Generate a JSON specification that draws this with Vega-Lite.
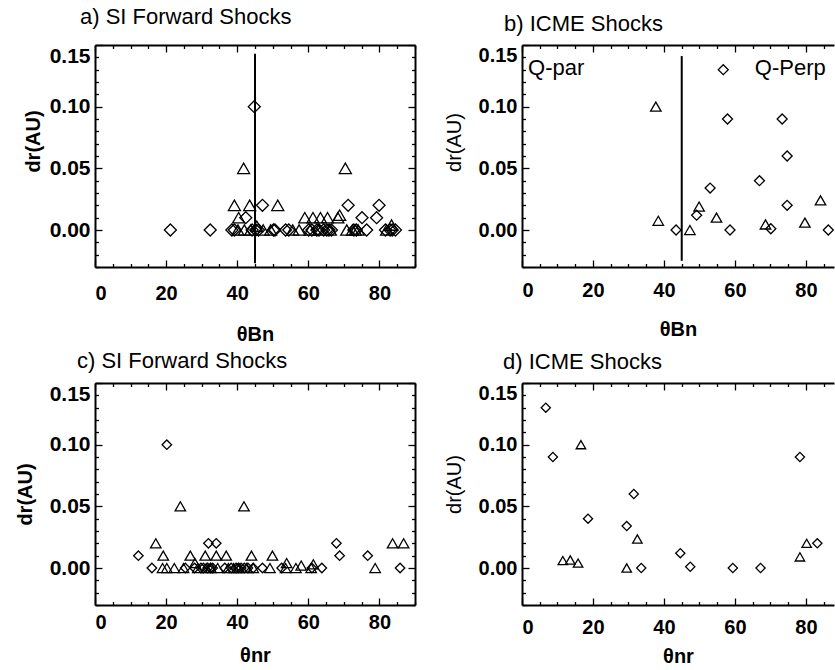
{
  "$schema": "https://vega.github.io/schema/vega-lite/v6.json",
  "padding": {"left": 15, "top": 6, "right": 0, "bottom": 0},
  "columns": 2,
  "spacing": {"column": 107, "row": 116},
  "bounds": "flush",
  "datasets": {
    "a": [
      {"theta": 21.2, "dr": 0, "kind": "diamond"},
      {"theta": 32.4, "dr": 0, "kind": "diamond"},
      {"theta": 38.5, "dr": 0, "kind": "diamond"},
      {"theta": 39.2, "dr": 0, "kind": "diamond"},
      {"theta": 42.4, "dr": 0.01, "kind": "diamond"},
      {"theta": 44.8, "dr": 0.10, "kind": "diamond"},
      {"theta": 44.2, "dr": 0, "kind": "diamond"},
      {"theta": 45.2, "dr": 0, "kind": "diamond"},
      {"theta": 46.0, "dr": 0, "kind": "diamond"},
      {"theta": 47.1, "dr": 0.02, "kind": "diamond"},
      {"theta": 50.2, "dr": 0, "kind": "diamond"},
      {"theta": 50.6, "dr": 0, "kind": "diamond"},
      {"theta": 53.6, "dr": 0, "kind": "diamond"},
      {"theta": 54.5, "dr": 0, "kind": "diamond"},
      {"theta": 60.1, "dr": 0, "kind": "diamond"},
      {"theta": 61.0, "dr": 0, "kind": "diamond"},
      {"theta": 62.4, "dr": 0, "kind": "diamond"},
      {"theta": 63.0, "dr": 0, "kind": "diamond"},
      {"theta": 64.3, "dr": 0, "kind": "diamond"},
      {"theta": 65.2, "dr": 0, "kind": "diamond"},
      {"theta": 65.8, "dr": 0, "kind": "diamond"},
      {"theta": 66.5, "dr": 0, "kind": "diamond"},
      {"theta": 71.2, "dr": 0.02, "kind": "diamond"},
      {"theta": 72.8, "dr": 0, "kind": "diamond"},
      {"theta": 73.5, "dr": 0, "kind": "diamond"},
      {"theta": 75.1, "dr": 0.01, "kind": "diamond"},
      {"theta": 76.4, "dr": 0, "kind": "diamond"},
      {"theta": 79.2, "dr": 0.01, "kind": "diamond"},
      {"theta": 79.9, "dr": 0.02, "kind": "diamond"},
      {"theta": 81.7, "dr": 0, "kind": "diamond"},
      {"theta": 83.0, "dr": 0, "kind": "diamond"},
      {"theta": 83.6, "dr": 0, "kind": "diamond"},
      {"theta": 84.5, "dr": 0, "kind": "diamond"},
      {"theta": 41.8, "dr": 0.05, "kind": "triangle"},
      {"theta": 70.4, "dr": 0.05, "kind": "triangle"},
      {"theta": 39.2, "dr": 0.02, "kind": "triangle"},
      {"theta": 43.5, "dr": 0.02, "kind": "triangle"},
      {"theta": 51.4, "dr": 0.02, "kind": "triangle"},
      {"theta": 40.4, "dr": 0.01, "kind": "triangle"},
      {"theta": 59.0, "dr": 0.01, "kind": "triangle"},
      {"theta": 61.3, "dr": 0.01, "kind": "triangle"},
      {"theta": 63.4, "dr": 0.01, "kind": "triangle"},
      {"theta": 65.4, "dr": 0.01, "kind": "triangle"},
      {"theta": 68.3, "dr": 0.01, "kind": "triangle"},
      {"theta": 68.8, "dr": 0.012, "kind": "triangle"},
      {"theta": 40.2, "dr": 0, "kind": "triangle"},
      {"theta": 42.0, "dr": 0, "kind": "triangle"},
      {"theta": 43.8, "dr": 0, "kind": "triangle"},
      {"theta": 45.5, "dr": 0.003, "kind": "triangle"},
      {"theta": 47.3, "dr": 0, "kind": "triangle"},
      {"theta": 49.4, "dr": 0, "kind": "triangle"},
      {"theta": 55.6, "dr": 0, "kind": "triangle"},
      {"theta": 57.4, "dr": 0, "kind": "triangle"},
      {"theta": 60.5, "dr": 0, "kind": "triangle"},
      {"theta": 63.0, "dr": 0, "kind": "triangle"},
      {"theta": 66.2, "dr": 0, "kind": "triangle"},
      {"theta": 70.8, "dr": 0, "kind": "triangle"},
      {"theta": 72.4, "dr": 0, "kind": "triangle"},
      {"theta": 73.2, "dr": 0, "kind": "triangle"},
      {"theta": 74.0, "dr": 0, "kind": "triangle"},
      {"theta": 82.0, "dr": 0, "kind": "triangle"},
      {"theta": 83.4, "dr": 0.004, "kind": "triangle"}
    ],
    "b": [
      {"theta": 56.7, "dr": 0.13, "kind": "diamond"},
      {"theta": 57.9, "dr": 0.09, "kind": "diamond"},
      {"theta": 73.3, "dr": 0.09, "kind": "diamond"},
      {"theta": 74.7, "dr": 0.06, "kind": "diamond"},
      {"theta": 66.9, "dr": 0.04, "kind": "diamond"},
      {"theta": 53.0, "dr": 0.034, "kind": "diamond"},
      {"theta": 49.2, "dr": 0.012, "kind": "diamond"},
      {"theta": 74.7, "dr": 0.02, "kind": "diamond"},
      {"theta": 43.4, "dr": 0, "kind": "diamond"},
      {"theta": 58.6, "dr": 0, "kind": "diamond"},
      {"theta": 70.1, "dr": 0.001, "kind": "diamond"},
      {"theta": 86.3, "dr": 0, "kind": "diamond"},
      {"theta": 37.7, "dr": 0.10, "kind": "triangle"},
      {"theta": 38.4, "dr": 0.0075, "kind": "triangle"},
      {"theta": 47.3, "dr": 0, "kind": "triangle"},
      {"theta": 49.9, "dr": 0.019, "kind": "triangle"},
      {"theta": 54.8, "dr": 0.01, "kind": "triangle"},
      {"theta": 68.6, "dr": 0.0045, "kind": "triangle"},
      {"theta": 79.7, "dr": 0.006, "kind": "triangle"},
      {"theta": 84.1, "dr": 0.024, "kind": "triangle"}
    ],
    "c": [
      {"theta": 12.2, "dr": 0.01, "kind": "diamond"},
      {"theta": 16.0, "dr": 0, "kind": "diamond"},
      {"theta": 20.2, "dr": 0.10, "kind": "diamond"},
      {"theta": 25.4, "dr": 0, "kind": "diamond"},
      {"theta": 28.0, "dr": 0, "kind": "diamond"},
      {"theta": 29.8, "dr": 0, "kind": "diamond"},
      {"theta": 30.5, "dr": 0, "kind": "diamond"},
      {"theta": 31.7, "dr": 0, "kind": "diamond"},
      {"theta": 31.9, "dr": 0.02, "kind": "diamond"},
      {"theta": 32.5, "dr": 0, "kind": "diamond"},
      {"theta": 33.1, "dr": 0, "kind": "diamond"},
      {"theta": 34.1, "dr": 0.02, "kind": "diamond"},
      {"theta": 36.5, "dr": 0, "kind": "diamond"},
      {"theta": 38.3, "dr": 0, "kind": "diamond"},
      {"theta": 39.7, "dr": 0, "kind": "diamond"},
      {"theta": 40.3, "dr": 0, "kind": "diamond"},
      {"theta": 41.1, "dr": 0, "kind": "diamond"},
      {"theta": 42.0, "dr": 0, "kind": "diamond"},
      {"theta": 43.0, "dr": 0, "kind": "diamond"},
      {"theta": 44.5, "dr": 0, "kind": "diamond"},
      {"theta": 47.1, "dr": 0, "kind": "diamond"},
      {"theta": 52.5, "dr": 0, "kind": "diamond"},
      {"theta": 61.0, "dr": 0, "kind": "diamond"},
      {"theta": 63.8, "dr": 0, "kind": "diamond"},
      {"theta": 67.9, "dr": 0.02, "kind": "diamond"},
      {"theta": 68.8, "dr": 0.01, "kind": "diamond"},
      {"theta": 76.7, "dr": 0.01, "kind": "diamond"},
      {"theta": 85.8, "dr": 0, "kind": "diamond"},
      {"theta": 24.0, "dr": 0.05, "kind": "triangle"},
      {"theta": 41.9, "dr": 0.05, "kind": "triangle"},
      {"theta": 17.1, "dr": 0.02, "kind": "triangle"},
      {"theta": 83.7, "dr": 0.02, "kind": "triangle"},
      {"theta": 86.8, "dr": 0.02, "kind": "triangle"},
      {"theta": 19.2, "dr": 0.01, "kind": "triangle"},
      {"theta": 26.8, "dr": 0.01, "kind": "triangle"},
      {"theta": 31.0, "dr": 0.01, "kind": "triangle"},
      {"theta": 34.1, "dr": 0.01, "kind": "triangle"},
      {"theta": 36.9, "dr": 0.01, "kind": "triangle"},
      {"theta": 44.0, "dr": 0.01, "kind": "triangle"},
      {"theta": 49.9, "dr": 0.01, "kind": "triangle"},
      {"theta": 28.1, "dr": 0.004, "kind": "triangle"},
      {"theta": 53.9, "dr": 0.004, "kind": "triangle"},
      {"theta": 58.0, "dr": 0.002, "kind": "triangle"},
      {"theta": 61.4, "dr": 0.003, "kind": "triangle"},
      {"theta": 19.0, "dr": 0, "kind": "triangle"},
      {"theta": 20.2, "dr": 0, "kind": "triangle"},
      {"theta": 22.3, "dr": 0, "kind": "triangle"},
      {"theta": 24.9, "dr": 0, "kind": "triangle"},
      {"theta": 28.9, "dr": 0, "kind": "triangle"},
      {"theta": 31.3, "dr": 0, "kind": "triangle"},
      {"theta": 32.6, "dr": 0, "kind": "triangle"},
      {"theta": 34.5, "dr": 0, "kind": "triangle"},
      {"theta": 37.5, "dr": 0, "kind": "triangle"},
      {"theta": 39.0, "dr": 0, "kind": "triangle"},
      {"theta": 40.5, "dr": 0, "kind": "triangle"},
      {"theta": 42.6, "dr": 0, "kind": "triangle"},
      {"theta": 44.5, "dr": 0, "kind": "triangle"},
      {"theta": 49.2, "dr": 0, "kind": "triangle"},
      {"theta": 53.6, "dr": 0, "kind": "triangle"},
      {"theta": 56.5, "dr": 0, "kind": "triangle"},
      {"theta": 60.8, "dr": 0, "kind": "triangle"},
      {"theta": 78.8, "dr": 0, "kind": "triangle"}
    ],
    "d": [
      {"theta": 6.7, "dr": 0.130, "kind": "diamond"},
      {"theta": 8.7, "dr": 0.09, "kind": "diamond"},
      {"theta": 18.6, "dr": 0.04, "kind": "diamond"},
      {"theta": 29.5, "dr": 0.034, "kind": "diamond"},
      {"theta": 31.5, "dr": 0.06, "kind": "diamond"},
      {"theta": 33.6, "dr": 0, "kind": "diamond"},
      {"theta": 44.6, "dr": 0.012, "kind": "diamond"},
      {"theta": 47.4, "dr": 0.001, "kind": "diamond"},
      {"theta": 59.4, "dr": 0, "kind": "diamond"},
      {"theta": 67.2, "dr": 0, "kind": "diamond"},
      {"theta": 78.3, "dr": 0.09, "kind": "diamond"},
      {"theta": 83.2, "dr": 0.02, "kind": "diamond"},
      {"theta": 16.6, "dr": 0.10, "kind": "triangle"},
      {"theta": 11.5, "dr": 0.006, "kind": "triangle"},
      {"theta": 13.6, "dr": 0.0065, "kind": "triangle"},
      {"theta": 15.8, "dr": 0.004, "kind": "triangle"},
      {"theta": 29.5, "dr": 0, "kind": "triangle"},
      {"theta": 32.5, "dr": 0.0235, "kind": "triangle"},
      {"theta": 78.3, "dr": 0.009, "kind": "triangle"},
      {"theta": 80.2, "dr": 0.02, "kind": "triangle"}
    ]
  },
  "concat": [
    {
      "width": 320, "height": 222,
      "title": {"text": "a) SI Forward Shocks", "dx": -15, "offset": 15},
      "data": {"name": "a"},
      "resolve": {"axis": {"x": "independent", "y": "independent"}},
      "layer": [
        {
          "transform": [{"filter": "datum.kind === 'diamond'"}],
          "mark": {"type": "point", "shape": "diamond", "filled": false, "stroke": "black", "strokeWidth": 1.3, "size": 144, "opacity": 1},
          "encoding": {
            "x": {"field": "theta", "type": "quantitative", "scale": {"domain": [0, 90], "nice": false, "zero": false},
              "axis": {"orient": "bottom", "values": [0,5,10,15,20,25,30,35,40,45,50,55,60,65,70,75,80,85,90],
                "tickSize": {"condition": {"test": "datum.value % 20 === 0", "value": -7}, "value": -3.5},
                "labelExpr": "datum.value % 20 === 0 ? datum.label : ''", "labelPadding": 23, "labelOverlap": false, "labelBound": false,
                "title": "θBn", "titlePadding": 18}},
            "y": {"field": "dr", "type": "quantitative", "scale": {"domain": [-0.03, 0.15], "nice": false, "zero": false},
              "axis": {"orient": "left", "values": [-0.03,-0.02,-0.01,0,0.01,0.02,0.03,0.04,0.05,0.06,0.07,0.08,0.09,0.10,0.11,0.12,0.13,0.14,0.15],
                "tickSize": {"condition": {"test": "abs(round(datum.value*100)) % 5 === 0", "value": -7}, "value": -3.5},
                "labelExpr": "abs(round(datum.value*100)) % 5 === 0 && datum.value > -0.001 ? format(datum.value, '.2f') : ''",
                "labelPadding": 12, "labelFontSize": 21, "labelOverlap": false, "labelFlush": true, "title": "dr(AU)", "titlePadding": 6, "titleY": 96}}
          }
        },
        {
          "transform": [{"filter": "datum.kind === 'triangle'"}],
          "mark": {"type": "point", "shape": "triangle-up", "filled": false, "stroke": "black", "strokeWidth": 1.3, "size": 144, "opacity": 1},
          "encoding": {
            "x": {"field": "theta", "type": "quantitative",
              "axis": {"orient": "top", "values": [0,5,10,15,20,25,30,35,40,45,50,55,60,65,70,75,80,85,90],
                "tickSize": {"condition": {"test": "datum.value % 20 === 0", "value": -7}, "value": -3.5},
                "labels": false, "title": null}},
            "y": {"field": "dr", "type": "quantitative",
              "axis": {"orient": "right", "values": [-0.03,-0.02,-0.01,0,0.01,0.02,0.03,0.04,0.05,0.06,0.07,0.08,0.09,0.10,0.11,0.12,0.13,0.14,0.15],
                "tickSize": {"condition": {"test": "abs(round(datum.value*100)) % 5 === 0", "value": -7}, "value": -3.5},
                "labels": false, "title": null}}
          }
        },
        {
          "data": {"values": [{"theta": 45, "top": 0.143, "bot": -0.027}]},
          "mark": {"type": "rule", "stroke": "black", "strokeWidth": 2},
          "encoding": {
            "x": {"field": "theta", "type": "quantitative", "axis": null},
            "y": {"field": "top", "type": "quantitative", "axis": null},
            "y2": {"field": "bot"}
          }
        }
      ]
    },
    {
      "width": 312, "height": 222,
      "title": {"text": "b) ICME Shocks", "dx": -18, "offset": 8},
      "data": {"name": "b"},
      "resolve": {"axis": {"x": "independent", "y": "independent"}},
      "layer": [
        {
          "transform": [{"filter": "datum.kind === 'diamond'"}],
          "mark": {"type": "point", "shape": "diamond", "filled": false, "stroke": "black", "strokeWidth": 1.3, "size": 100, "opacity": 1},
          "encoding": {
            "x": {"field": "theta", "type": "quantitative", "scale": {"domain": [0, 87.9], "nice": false, "zero": false},
              "axis": {"orient": "bottom", "values": [0,5,10,15,20,25,30,35,40,45,50,55,60,65,70,75,80,85],
                "tickSize": {"condition": {"test": "datum.value % 20 === 0", "value": -7}, "value": -3.5},
                "labelExpr": "datum.value % 20 === 0 ? datum.label : ''", "labelPadding": 20.5, "labelOverlap": false, "labelBound": false,
                "title": "θBn", "titlePadding": 15.5}},
            "y": {"field": "dr", "type": "quantitative", "scale": {"domain": [-0.03, 0.15], "nice": false, "zero": false},
              "axis": {"orient": "left", "values": [-0.03,-0.02,-0.01,0,0.01,0.02,0.03,0.04,0.05,0.06,0.07,0.08,0.09,0.10,0.11,0.12,0.13,0.14,0.15],
                "tickSize": {"condition": {"test": "abs(round(datum.value*100)) % 5 === 0", "value": -7}, "value": -3.5},
                "labelExpr": "abs(round(datum.value*100)) % 5 === 0 && datum.value > -0.001 ? format(datum.value, '.2f') : ''",
                "labelPadding": 12, "labelOverlap": false, "labelFlush": true, "title": "dr(AU)", "titleFontWeight": "normal", "titlePadding": 14, "titleY": 97}}
          }
        },
        {
          "transform": [{"filter": "datum.kind === 'triangle'"}],
          "mark": {"type": "point", "shape": "triangle-up", "filled": false, "stroke": "black", "strokeWidth": 1.3, "size": 110, "opacity": 1},
          "encoding": {
            "x": {"field": "theta", "type": "quantitative",
              "axis": {"orient": "top", "values": [0,5,10,15,20,25,30,35,40,45,50,55,60,65,70,75,80,85],
                "tickSize": {"condition": {"test": "datum.value % 20 === 0", "value": -7}, "value": -3.5},
                "labels": false, "title": null}},
            "y": {"field": "dr", "type": "quantitative", "axis": null}
          }
        },
        {
          "data": {"values": [{"theta": 45, "top": 0.141, "bot": -0.025}]},
          "mark": {"type": "rule", "stroke": "black", "strokeWidth": 2},
          "encoding": {
            "x": {"field": "theta", "type": "quantitative", "axis": null},
            "y": {"field": "top", "type": "quantitative", "axis": null},
            "y2": {"field": "bot"}
          }
        },
        {
          "data": {"values": [{"theta": 1.7, "dr": 0.131, "label": "Q-par"}, {"theta": 65.6, "dr": 0.131, "label": "Q-Perp"}]},
          "mark": {"type": "text", "align": "left", "baseline": "middle", "font": "Liberation Sans", "fontSize": 22, "color": "black"},
          "encoding": {
            "x": {"field": "theta", "type": "quantitative", "axis": null},
            "y": {"field": "dr", "type": "quantitative", "axis": null},
            "text": {"field": "label"}
          }
        }
      ]
    },
    {
      "width": 320, "height": 222,
      "title": {"text": "c) SI Forward Shocks", "dx": -18, "offset": 9},
      "data": {"name": "c"},
      "resolve": {"axis": {"x": "independent", "y": "independent"}},
      "layer": [
        {
          "transform": [{"filter": "datum.kind === 'diamond'"}],
          "mark": {"type": "point", "shape": "diamond", "filled": false, "stroke": "black", "strokeWidth": 1.3, "size": 90, "opacity": 1},
          "encoding": {
            "x": {"field": "theta", "type": "quantitative", "scale": {"domain": [0, 90], "nice": false, "zero": false},
              "axis": {"orient": "bottom", "values": [0,5,10,15,20,25,30,35,40,45,50,55,60,65,70,75,80,85,90],
                "tickSize": {"condition": {"test": "datum.value % 20 === 0", "value": -7}, "value": -3.5},
                "labelExpr": "datum.value % 20 === 0 ? datum.label : ''", "labelPadding": 14, "labelOverlap": false, "labelBound": false,
                "title": "θnr", "titlePadding": 10}},
            "y": {"field": "dr", "type": "quantitative", "scale": {"domain": [-0.03, 0.15], "nice": false, "zero": false},
              "axis": {"orient": "left", "values": [-0.03,-0.02,-0.01,0,0.01,0.02,0.03,0.04,0.05,0.06,0.07,0.08,0.09,0.10,0.11,0.12,0.13,0.14,0.15],
                "tickSize": {"condition": {"test": "abs(round(datum.value*100)) % 5 === 0", "value": -7}, "value": -3.5},
                "labelExpr": "abs(round(datum.value*100)) % 5 === 0 && datum.value > -0.001 ? format(datum.value, '.2f') : ''",
                "labelPadding": 12, "labelFontSize": 21, "labelOverlap": false, "labelFlush": true, "title": "dr(AU)", "titlePadding": 14}}
          }
        },
        {
          "transform": [{"filter": "datum.kind === 'triangle'"}],
          "mark": {"type": "point", "shape": "triangle-up", "filled": false, "stroke": "black", "strokeWidth": 1.3, "size": 110, "opacity": 1},
          "encoding": {
            "x": {"field": "theta", "type": "quantitative",
              "axis": {"orient": "top", "values": [0,5,10,15,20,25,30,35,40,45,50,55,60,65,70,75,80,85,90],
                "tickSize": {"condition": {"test": "datum.value % 20 === 0", "value": -7}, "value": -3.5},
                "labels": false, "title": null}},
            "y": {"field": "dr", "type": "quantitative",
              "axis": {"orient": "right", "values": [-0.03,-0.02,-0.01,0,0.01,0.02,0.03,0.04,0.05,0.06,0.07,0.08,0.09,0.10,0.11,0.12,0.13,0.14,0.15],
                "tickSize": {"condition": {"test": "abs(round(datum.value*100)) % 5 === 0", "value": -7}, "value": -3.5},
                "labels": false, "title": null}}
          }
        }
      ]
    },
    {
      "width": 312, "height": 222,
      "title": {"text": "d) ICME Shocks", "dx": -19, "offset": 8},
      "data": {"name": "d"},
      "resolve": {"axis": {"x": "independent", "y": "independent"}},
      "layer": [
        {
          "transform": [{"filter": "datum.kind === 'diamond'"}],
          "mark": {"type": "point", "shape": "diamond", "filled": false, "stroke": "black", "strokeWidth": 1.3, "size": 85, "opacity": 1},
          "encoding": {
            "x": {"field": "theta", "type": "quantitative", "scale": {"domain": [0, 87.9], "nice": false, "zero": false},
              "axis": {"orient": "bottom", "values": [0,5,10,15,20,25,30,35,40,45,50,55,60,65,70,75,80,85],
                "tickSize": {"condition": {"test": "datum.value % 20 === 0", "value": -7}, "value": -3.5},
                "labelExpr": "datum.value % 20 === 0 ? datum.label : ''", "labelPadding": 19, "labelOverlap": false, "labelBound": false,
                "title": "θnr", "titlePadding": 6}},
            "y": {"field": "dr", "type": "quantitative", "scale": {"domain": [-0.03, 0.15], "nice": false, "zero": false},
              "axis": {"orient": "left", "values": [-0.03,-0.02,-0.01,0,0.01,0.02,0.03,0.04,0.05,0.06,0.07,0.08,0.09,0.10,0.11,0.12,0.13,0.14,0.15],
                "tickSize": {"condition": {"test": "abs(round(datum.value*100)) % 5 === 0", "value": -7}, "value": -3.5},
                "labelExpr": "abs(round(datum.value*100)) % 5 === 0 && datum.value > -0.001 ? format(datum.value, '.2f') : ''",
                "labelPadding": 12, "labelOverlap": false, "labelFlush": true, "title": "dr(AU)", "titleFontWeight": "normal", "titlePadding": 14, "titleY": 101}}
          }
        },
        {
          "transform": [{"filter": "datum.kind === 'triangle'"}],
          "mark": {"type": "point", "shape": "triangle-up", "filled": false, "stroke": "black", "strokeWidth": 1.3, "size": 90, "opacity": 1},
          "encoding": {
            "x": {"field": "theta", "type": "quantitative",
              "axis": {"orient": "top", "values": [0,5,10,15,20,25,30,35,40,45,50,55,60,65,70,75,80,85],
                "tickSize": {"condition": {"test": "datum.value % 20 === 0", "value": -7}, "value": -3.5},
                "labels": false, "title": null}},
            "y": {"field": "dr", "type": "quantitative", "axis": null}
          }
        }
      ]
    }
  ],
  "config": {
    "background": "white",
    "view": {"stroke": null},
    "axis": {
      "grid": false,
      "domainColor": "black", "domainWidth": 2,
      "tickColor": "black", "tickWidth": 1.3,
      "labelFont": "Liberation Sans", "labelFontSize": 20, "labelFontWeight": "bold", "labelColor": "black",
      "titleFont": "Liberation Sans", "titleFontSize": 20, "titleFontWeight": "bold", "titleColor": "black"
    },
    "title": {"font": "Liberation Sans", "fontSize": 22, "fontWeight": "normal", "anchor": "start", "color": "black", "frame": "group", "baseline": "alphabetic"}
  }
}
